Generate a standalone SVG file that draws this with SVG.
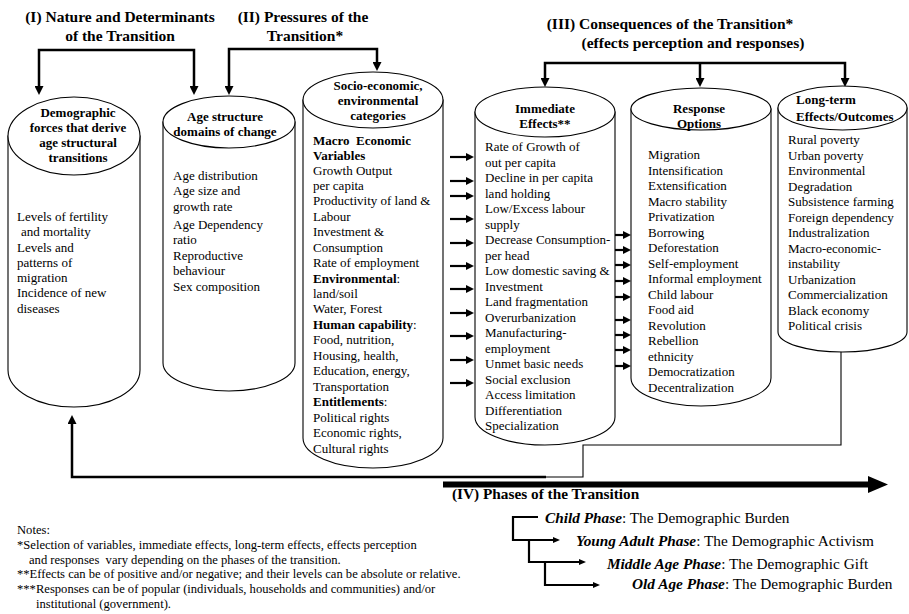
<svg xmlns="http://www.w3.org/2000/svg" width="909" height="614" viewBox="0 0 909 614">
<style>
text{font-family:"Liberation Serif","Times New Roman",serif;font-size:13px;fill:#000}
.b{font-weight:bold}
.m{text-anchor:middle}
.ti{font-size:15.5px;font-weight:bold;text-anchor:middle}
.nt{font-size:12.6px}
.ph{font-size:15.3px}
.bi{font-weight:bold;font-style:italic}
.cyl{fill:#fff;stroke:#000;stroke-width:1.1}
.thick{fill:none;stroke:#000;stroke-width:2.5}
.sm{fill:none;stroke:#000;stroke-width:2.2}
.thin{fill:none;stroke:#000;stroke-width:1.1}
</style>
<defs>
<marker id="arrL" markerUnits="userSpaceOnUse" markerWidth="9" markerHeight="9" refX="0" refY="4.5" orient="auto-start-reverse"><path d="M0,0 L9,4.5 L0,9 z" fill="#000"/></marker>
<marker id="arrS" markerUnits="userSpaceOnUse" markerWidth="8" markerHeight="8" refX="0" refY="4" orient="auto"><path d="M0,0 L8,4 L0,8 z" fill="#000"/></marker>
<marker id="arrP" markerUnits="userSpaceOnUse" markerWidth="7" markerHeight="6" refX="0" refY="3" orient="auto"><path d="M0,0 L7,3 L0,6 z" fill="#000"/></marker>
</defs>
<rect width="909" height="614" fill="#fff"/>

<g id="titles">
<text class="ti" x="120" y="22">(I) Nature and Determinants</text>
<text class="ti" x="120" y="41">of the Transition</text>
<text class="ti" x="303" y="22">(II) Pressures of the</text>
<text class="ti" x="305" y="41">Transition*</text>
<text class="ti" x="670" y="29">(III) Consequences of the Transition*</text>
<text class="ti" x="693" y="48">(effects perception and responses)</text>
</g>

<g id="connectors">
<path class="thick" d="M39,86 V50 H194 V86" marker-start="url(#arrL)" marker-end="url(#arrL)"/>
<path class="thick" d="M229,86 V49 H377 V62" marker-start="url(#arrL)" marker-end="url(#arrL)"/>
<path class="thick" d="M545,78 V63 H845 V78" marker-start="url(#arrL)" marker-end="url(#arrL)"/>
<path class="thick" d="M700,63 V78" marker-end="url(#arrL)"/>
<path class="thin" d="M841,352 V445 H583 V477 H546"/>
<path class="thick" d="M546,477 H72 V424" marker-end="url(#arrL)"/>
<path d="M443,484.5 H869" stroke="#000" stroke-width="6" fill="none"/>
<polygon points="868,476 888,484.5 868,493" fill="#000"/>
<g class="sm">
<path d="M450,157 H466" marker-end="url(#arrS)"/>
<path d="M450,181 H466" marker-end="url(#arrS)"/>
<path d="M450,196 H466" marker-end="url(#arrS)"/>
<path d="M450,219 H466" marker-end="url(#arrS)"/>
<path d="M450,243 H466" marker-end="url(#arrS)"/>
<path d="M450,266 H466" marker-end="url(#arrS)"/>
<path d="M450,289 H466" marker-end="url(#arrS)"/>
<path d="M450,313 H466" marker-end="url(#arrS)"/>
<path d="M450,336 H466" marker-end="url(#arrS)"/>
<path d="M450,360 H466" marker-end="url(#arrS)"/>
<path d="M450,383 H466" marker-end="url(#arrS)"/>
<path d="M613,235 H623" marker-end="url(#arrS)"/>
<path d="M613,250 H623" marker-end="url(#arrS)"/>
<path d="M613,265 H623" marker-end="url(#arrS)"/>
<path d="M613,281 H623" marker-end="url(#arrS)"/>
<path d="M613,297 H623" marker-end="url(#arrS)"/>
<path d="M613,320 H623" marker-end="url(#arrS)"/>
<path d="M613,335 H623" marker-end="url(#arrS)"/>
<path d="M613,350 H623" marker-end="url(#arrS)"/>
<path d="M613,366 H623" marker-end="url(#arrS)"/>
<path d="M538,517 H513 V540 H553" marker-end="url(#arrP)"/>
<path d="M529,540 V562 H579" marker-end="url(#arrP)"/>
<path d="M545,562 V585 H593" marker-end="url(#arrP)"/>
</g>
</g>

<g id="demographic">
<path class="cyl" d="M8,136 V370 A66,37 0 0 0 140,370 V136 Z"/>
<ellipse class="cyl" cx="74" cy="136" rx="66" ry="39"/>
<text class="b m" x="78" y="117">Demographic</text>
<text class="b m" x="78" y="132">forces that derive</text>
<text class="b m" x="78" y="147">age structural</text>
<text class="b m" x="78" y="162">transitions</text>
<text x="17" y="221">Levels of fertility</text>
<text x="21" y="236">and mortality</text>
<text x="17" y="252">Levels and</text>
<text x="17" y="267">patterns of</text>
<text x="17" y="282">migration</text>
<text x="17" y="297">Incidence of new</text>
<text x="17" y="313">diseases</text>
</g>

<g id="age-structure">
<path class="cyl" d="M163,122 V363 A66,28 0 0 0 295,363 V122 Z"/>
<ellipse class="cyl" cx="229" cy="122" rx="66" ry="26"/>
<text class="b m" x="225" y="121">Age structure</text>
<text class="b m" x="225" y="136">domains of change</text>
<text x="173" y="180">Age distribution</text>
<text x="173" y="195">Age size and</text>
<text x="173" y="211">growth rate</text>
<text x="173" y="229">Age Dependency</text>
<text x="173" y="244">ratio</text>
<text x="173" y="260">Reproductive</text>
<text x="173" y="275">behaviour</text>
<text x="173" y="291">Sex composition</text>
</g>

<g id="socio-economic">
<path class="cyl" d="M303,100 V438 A70,30 0 0 0 443,438 V100 Z"/>
<ellipse class="cyl" cx="373" cy="100" rx="70" ry="28"/>
<text class="b m" x="378" y="90">Socio-economic,</text>
<text class="b m" x="378" y="105">environmental</text>
<text class="b m" x="378" y="120">categories</text>
<text class="b" x="313" y="145" xml:space="preserve">Macro  Economic</text>
<text class="b" x="313" y="160">Variables</text>
<text x="313" y="175">Growth Output</text>
<text x="313" y="190">per capita</text>
<text x="313" y="205">Productivity of land &amp;</text>
<text x="313" y="221">Labour</text>
<text x="313" y="236">Investment &amp;</text>
<text x="313" y="252">Consumption</text>
<text x="313" y="267">Rate of employment</text>
<text x="313" y="283"><tspan class="b">Environmental</tspan>:</text>
<text x="313" y="298">land/soil</text>
<text x="313" y="313">Water, Forest</text>
<text x="313" y="329"><tspan class="b">Human capability</tspan>:</text>
<text x="313" y="344">Food, nutrition,</text>
<text x="313" y="360">Housing, health,</text>
<text x="313" y="375">Education, energy,</text>
<text x="313" y="391">Transportation</text>
<text x="313" y="406"><tspan class="b">Entitlements</tspan>:</text>
<text x="313" y="422">Political rights</text>
<text x="313" y="437">Economic rights,</text>
<text x="313" y="453">Cultural rights</text>
</g>

<g id="immediate-effects">
<path class="cyl" d="M475,112 V417 A70,28 0 0 0 615,417 V112 Z"/>
<ellipse class="cyl" cx="545" cy="112" rx="70" ry="25"/>
<text class="b m" x="545" y="113">Immediate</text>
<text class="b m" x="545" y="128">Effects**</text>
<text x="485" y="151">Rate of Growth of</text>
<text x="485" y="166.5">out per capita</text>
<text x="485" y="182">Decline in per capita</text>
<text x="485" y="197.5">land holding</text>
<text x="485" y="213">Low/Excess labour</text>
<text x="485" y="228.5">supply</text>
<text x="485" y="244">Decrease Consumption-</text>
<text x="485" y="259.5">per head</text>
<text x="485" y="275">Low domestic saving &amp;</text>
<text x="485" y="290.5">Investment</text>
<text x="485" y="306">Land fragmentation</text>
<text x="485" y="321.5">Overurbanization</text>
<text x="485" y="337">Manufacturing-</text>
<text x="485" y="352.5">employment</text>
<text x="485" y="368">Unmet basic needs</text>
<text x="485" y="383.5">Social exclusion</text>
<text x="485" y="399">Access limitation</text>
<text x="485" y="414.5">Differentiation</text>
<text x="485" y="430">Specialization</text>
</g>

<g id="response-options">
<path class="cyl" d="M631,109 V378 A70,28 0 0 0 771,378 V109 Z"/>
<ellipse class="cyl" cx="701" cy="109" rx="70" ry="21"/>
<text class="b m" x="699" y="113">Response</text>
<text class="b m" x="699" y="128">Options</text>
<text x="648" y="159">Migration</text>
<text x="648" y="174.5">Intensification</text>
<text x="648" y="190">Extensification</text>
<text x="648" y="205.5">Macro stability</text>
<text x="648" y="221">Privatization</text>
<text x="648" y="236.5">Borrowing</text>
<text x="648" y="252">Deforestation</text>
<text x="648" y="267.5">Self-employment</text>
<text x="648" y="283">Informal employment</text>
<text x="648" y="298.5">Child labour</text>
<text x="648" y="314">Food aid</text>
<text x="648" y="329.5">Revolution</text>
<text x="648" y="345">Rebellion</text>
<text x="648" y="360.5">ethnicity</text>
<text x="648" y="376">Democratization</text>
<text x="648" y="391.5">Decentralization</text>
</g>

<g id="long-term-effects">
<path class="cyl" d="M778,108 V332 A64.5,20 0 0 0 907,332 V108 Z"/>
<ellipse class="cyl" cx="842.5" cy="108" rx="64.5" ry="22"/>
<text class="b" x="796" y="104">Long-term</text>
<text class="b" x="796" y="121">Effects/Outcomes</text>
<text x="788" y="144">Rural poverty</text>
<text x="788" y="159.5">Urban poverty</text>
<text x="788" y="175">Environmental</text>
<text x="788" y="190.5">Degradation</text>
<text x="788" y="206">Subsistence farming</text>
<text x="788" y="221.5">Foreign dependency</text>
<text x="788" y="237">Industralization</text>
<text x="788" y="252.5">Macro-economic-</text>
<text x="788" y="268">instability</text>
<text x="788" y="283.5">Urbanization</text>
<text x="788" y="299">Commercialization</text>
<text x="788" y="314.5">Black economy</text>
<text x="788" y="330">Political crisis</text>
</g>

<g id="phases">
<text class="ph b" x="452" y="499">(IV) Phases of the Transition</text>
<text class="ph" x="545" y="523"><tspan class="bi">Child Phase</tspan>: The Demographic Burden</text>
<text class="ph" x="576" y="546"><tspan class="bi">Young Adult Phase</tspan>: The Demographic Activism</text>
<text class="ph" x="607" y="569"><tspan class="bi">Middle Age Phase</tspan>: The Demographic Gift</text>
<text class="ph" x="632" y="589"><tspan class="bi">Old Age Phase</tspan>: The Demographic Burden</text>
</g>

<g id="notes">
<text class="nt" x="17" y="534">Notes:</text>
<text class="nt" x="17" y="549">*Selection of variables, immediate effects, long-term effects, effects perception</text>
<text class="nt" x="29" y="564" xml:space="preserve">and responses  vary depending on the phases of the transition.</text>
<text class="nt" x="17" y="578">**Effects can be of positive and/or negative; and their levels can be absolute or relative.</text>
<text class="nt" x="17" y="593">***Responses can be of popular (individuals, households and communities) and/or</text>
<text class="nt" x="36" y="608">institutional (government).</text>
</g>
</svg>
